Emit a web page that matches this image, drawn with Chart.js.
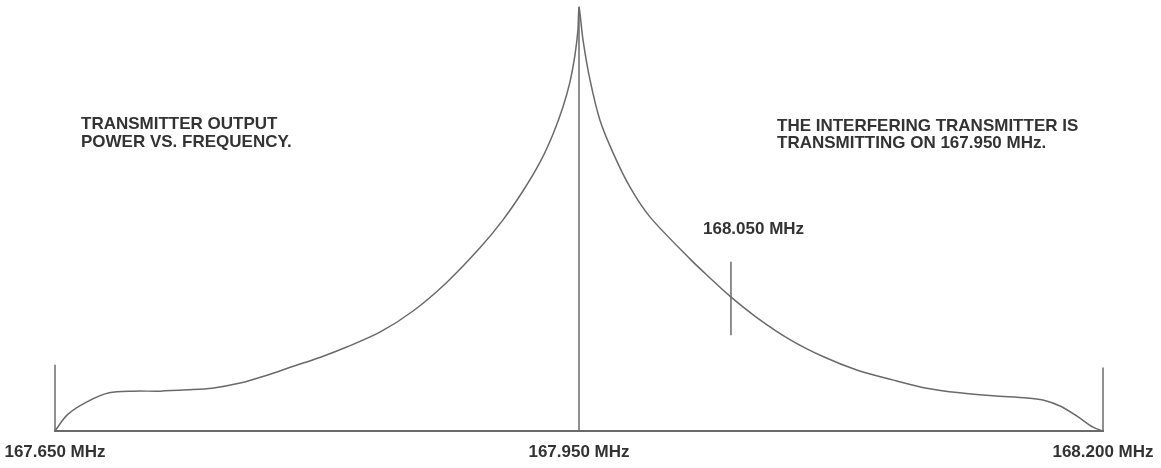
<!DOCTYPE html>
<html>
<head>
<meta charset="utf-8">
<script src="https://cdn.jsdelivr.net/npm/chart.js@4.4.1/dist/chart.umd.min.js"></script>
<style>
  html, body { margin: 0; padding: 0; background: #fff; }
  #wrap { width: 1161px; height: 468px; }
</style>
</head>
<body>
<div id="wrap"><canvas id="c" width="1161" height="468"></canvas></div>
<script>
// Frequency offset from the carrier (schematic units) and relative output power (0–100)
const spectrumOffset = [-300, -293, -282, -269, -255, -240, -224, -210, -194, -179, -164, -148, -133, -114, -95, -75.6, -56.7, -43.5, -32.1, -22.3, -14.9, -9.2, -5.2, -2.3, -0.6, 0,
                        2.3, 6.3, 12, 19.5, 29.2, 40.6, 63.5, 75, 86.4, 102, 121, 140, 159, 180, 199, 218, 237, 256.5, 265.6, 275.4, 285.1, 294.3, 300];
const spectrumPower  = [0, 3.8, 6.8, 9.0, 9.4, 9.4, 9.7, 10.1, 11.3, 13.1, 15.2, 17.4, 19.8, 23.3, 28.3, 35.1, 43.2, 49.8, 56.6, 63.4, 70.0, 76.4, 82.3, 88.7, 94.6, 100,
                        92.2, 82.8, 73.3, 65.6, 57.5, 50.5, 40.6, 36.1, 31.8, 26.7, 21.5, 17.5, 14.4, 12.0, 10.1, 9.0, 8.3, 7.8, 7.3, 5.9, 3.5, 0.9, 0];

// Vertical reference lines: [offset, bottom, top]
const leftEdgeLine  = [-300, 0, 15.6];
const centerLine    = [0, 0, 100];
const rightEdgeLine = [300, 0, 15.0];
const markerLine    = [87, 22.6, 39.9];

// Axis tick positions and labels
const tickOffsets = [-300, 0, 300];
const tickLabels  = ['167.650 MHz', '167.950 MHz', '168.200 MHz'];

// Annotation texts
const markerLabel = '168.050 MHz';
const leftNote  = ['TRANSMITTER OUTPUT', 'POWER VS. FREQUENCY.'];
const rightNote = ['THE INTERFERING TRANSMITTER IS', 'TRANSMITTING ON 167.950 MHz.'];

const FONT = 'bold 17px "Liberation Sans", Arial, sans-serif';
const INK = '#333333';
const LINE = '#6a6a6a';

function vline(arr) {
  return [{ x: arr[0], y: arr[1] }, { x: arr[0], y: arr[2] }];
}

const textPlugin = {
  id: 'notes',
  afterDraw(chart) {
    const ctx = chart.ctx;
    ctx.save();
    ctx.fillStyle = INK;
    ctx.font = FONT;
    ctx.textBaseline = 'alphabetic';
    ctx.textAlign = 'left';
    ctx.fillText(leftNote[0], 81, 129);
    ctx.fillText(leftNote[1], 81, 147);
    ctx.fillText(rightNote[0], 777, 131);
    ctx.fillText(rightNote[1], 777, 148);
    ctx.fillText(markerLabel, 703, 234);
    ctx.restore();
  }
};

const lineStyle = { borderColor: LINE, borderWidth: 1.5, pointRadius: 0, fill: false, clip: false };

new Chart(document.getElementById('c'), {
  type: 'line',
  data: {
    datasets: [
      Object.assign({ label: 'Output power', data: spectrumOffset.map((x, i) => ({ x: x, y: spectrumPower[i] })), tension: 0.3 }, lineStyle),
      Object.assign({ label: 'left', data: vline(leftEdgeLine) }, lineStyle),
      Object.assign({ label: 'center', data: vline(centerLine) }, lineStyle),
      Object.assign({ label: 'right', data: vline(rightEdgeLine) }, lineStyle),
      Object.assign({ label: 'marker', data: vline(markerLine) }, lineStyle)
    ]
  },
  options: {
    responsive: false,
    animation: false,
    events: [],
    layout: { padding: { left: 55, right: 58, top: 7, bottom: 0 } },
    plugins: { legend: { display: false }, tooltip: { enabled: false } },
    scales: {
      x: {
        type: 'linear', min: -300, max: 300,
        grid: { display: false, drawTicks: false },
        border: { display: true, color: LINE, width: 2 },
        afterBuildTicks: (scale) => { scale.ticks = tickOffsets.map(v => ({ value: v })); },
        afterFit: (scale) => { scale.paddingLeft = 0; scale.paddingRight = 0; scale.height = 37; },
        ticks: {
          autoSkip: false, maxRotation: 0, padding: 11,
          color: INK,
          font: { family: '"Liberation Sans", Arial, sans-serif', size: 17, weight: 'bold' },
          callback: (v) => { const i = tickOffsets.indexOf(v); return i >= 0 ? tickLabels[i] : ''; }
        }
      },
      y: { type: 'linear', min: 0, max: 100, display: false }
    }
  },
  plugins: [textPlugin]
});
</script>
</body>
</html>
